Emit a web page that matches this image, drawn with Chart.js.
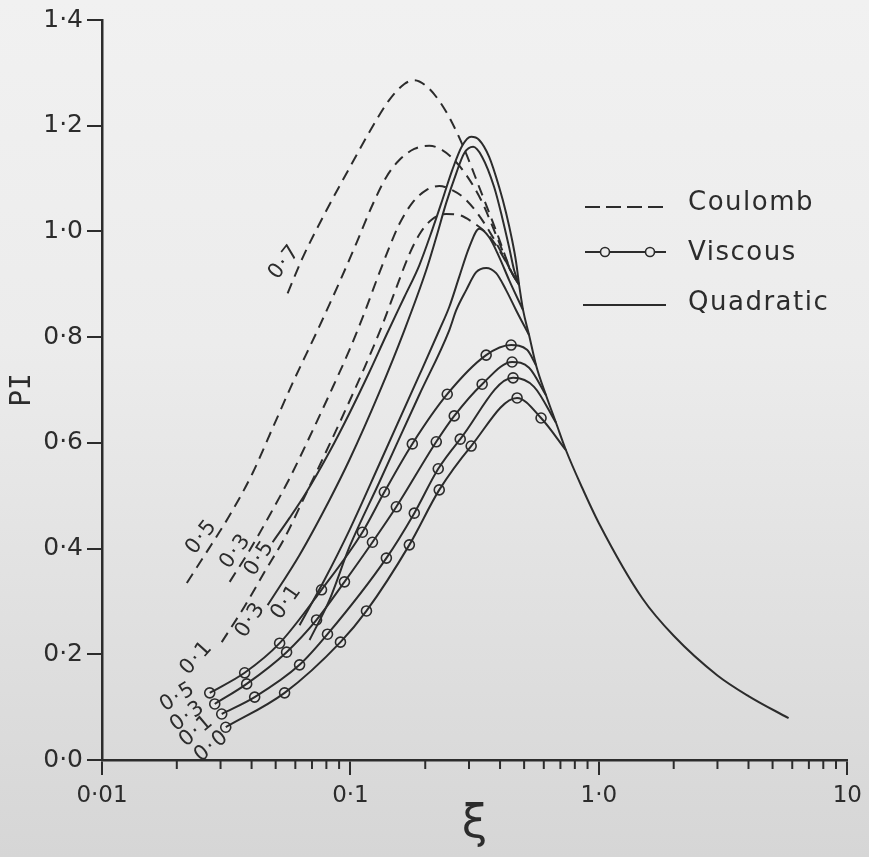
<!DOCTYPE html>
<html><head><meta charset="utf-8">
<script src="https://cdn.jsdelivr.net/npm/chart.js@4.4.0/dist/chart.umd.min.js"></script>
<style>
html,body{margin:0;padding:0;}
body{width:869px;height:857px;background:linear-gradient(to bottom,#f1f1f1 0%,#ececec 40%,#e0e0e0 72%,#d6d6d6 100%);overflow:hidden;}
canvas{display:block;}
</style></head><body>
<canvas id="c" width="869" height="857"></canvas>
<script>
// ---------- data ----------
const xTickValues = [0.01, 0.1, 1, 10];
const xTickLabels = ['0·01', '0·1', '1·0', '10'];
const xMinorTicks = [0.02,0.03,0.04,0.05,0.06,0.07,0.08,0.09,0.2,0.3,0.4,0.5,0.6,0.7,0.8,0.9,2,3,4,5,6,7,8,9];
const yTickLabels = ['0·0', '0·2', '0·4', '0·6', '0·8', '1·0', '1·2', '1·4'];

// Coulomb (dashed)
const coulomb07 = [[0.05585,0.883],[0.06416,0.950],[0.07864,1.033],[0.09909,1.120],[0.1226,1.198],[0.1434,1.249],[0.1648,1.279],[0.1807,1.286],[0.2019,1.275],[0.2277,1.247],[0.2544,1.209],[0.2870,1.156],[0.3297,1.084],[0.3858,1.001],[0.4472,0.921],[0.4772,0.899]];
const coulomb05 = [[0.02195,0.335],[0.02593,0.388],[0.03265,0.463],[0.0404,0.543],[0.04861,0.628],[0.05848,0.713],[0.07371,0.813],[0.09034,0.904],[0.1057,0.978],[0.1226,1.050],[0.1395,1.103],[0.1573,1.135],[0.1807,1.156],[0.2076,1.162],[0.2342,1.154],[0.2617,1.135],[0.2923,1.107],[0.3359,1.059],[0.3858,0.993],[0.4472,0.921],[0.4772,0.899]];
const coulomb03 = [[0.03265,0.337],[0.03929,0.397],[0.04727,0.463],[0.05689,0.533],[0.06845,0.611],[0.08236,0.692],[0.09909,0.776],[0.1138,0.846],[0.1284,0.912],[0.1434,0.970],[0.1573,1.014],[0.1774,1.054],[0.2019,1.078],[0.2277,1.086],[0.2568,1.078],[0.2870,1.063],[0.3236,1.035],[0.3616,1.001],[0.4042,0.961],[0.4472,0.921],[0.4772,0.899]];
const coulomb01 = [[0.03033,0.223],[0.03752,0.291],[0.04514,0.356],[0.05431,0.420],[0.06536,0.498],[0.07864,0.577],[0.0946,0.658],[0.1138,0.742],[0.1344,0.823],[0.1545,0.899],[0.1726,0.957],[0.1910,0.997],[0.2134,1.023],[0.2429,1.033],[0.2740,1.031],[0.3090,1.018],[0.3517,0.997],[0.3966,0.965],[0.4472,0.921],[0.4772,0.899]];

// Quadratic (solid)
const quadratic07 = [[0.04861,0.412],[0.05689,0.458],[0.06658,0.507],[0.08236,0.583],[0.09909,0.656],[0.1192,0.734],[0.1395,0.804],[0.1648,0.876],[0.1893,0.936],[0.2134,1.003],[0.2342,1.059],[0.2568,1.116],[0.2817,1.162],[0.3061,1.179],[0.3297,1.173],[0.3616,1.141],[0.3966,1.084],[0.4231,1.035],[0.4472,0.984],[0.4642,0.942],[0.4772,0.899]];
const quadratic05 = [[0.04642,0.293],[0.0624,0.388],[0.08236,0.492],[0.09909,0.568],[0.1308,0.696],[0.1648,0.813],[0.2019,0.927],[0.2215,0.989],[0.2429,1.054],[0.2665,1.110],[0.2870,1.148],[0.3119,1.160],[0.3389,1.141],[0.3787,1.084],[0.4077,1.027],[0.4351,0.970],[0.4556,0.927],[0.4772,0.899]];
const quadratic03 = [[0.0624,0.255],[0.07864,0.341],[0.09909,0.435],[0.1308,0.560],[0.1893,0.728],[0.2277,0.813],[0.2498,0.857],[0.2740,0.914],[0.3005,0.970],[0.3297,1.005],[0.3616,0.989],[0.3966,0.952],[0.4351,0.908],[0.4953,0.851]];
const quadratic01 = [[0.06845,0.227],[0.08236,0.303],[0.09909,0.403],[0.1308,0.526],[0.1893,0.691],[0.2498,0.813],[0.2665,0.851],[0.2923,0.889],[0.3207,0.923],[0.3517,0.931],[0.3858,0.921],[0.4231,0.889],[0.4642,0.851],[0.5234,0.804]];

// common descending branch
const commonTail = [[0.4772,0.899],[0.4953,0.851],[0.5234,0.804],[0.5585,0.747],[0.6125,0.690],[0.672,0.638],[0.737,0.586],[0.8545,0.516],[1.0,0.448],[1.5,0.305],[2.0,0.235],[3.0,0.160],[4.0,0.121],[5.8,0.079]];

// Viscous (solid with circles): circle points, then descent to common branch
const viscous05 = [[0.02714,0.127],[0.03752,0.165],[0.05187,0.221],[0.07647,0.322],[0.1117,0.431],[0.1369,0.507],[0.1774,0.598],[0.2452,0.692],[0.3517,0.766],[0.4432,0.785]];
const viscous05Join = [[0.5137,0.776],[0.5585,0.747]];
const viscous03 = [[0.02843,0.106],[0.03822,0.144],[0.05533,0.204],[0.07303,0.265],[0.0946,0.337],[0.1226,0.412],[0.1530,0.479],[0.2215,0.602],[0.2617,0.651],[0.3389,0.711],[0.4473,0.753]];
const viscous03Join = [[0.5234,0.742],[0.6125,0.690]];
const viscous01 = [[0.03033,0.087],[0.04116,0.119],[0.0624,0.180],[0.08083,0.238],[0.1395,0.382],[0.1807,0.467],[0.2256,0.551],[0.2766,0.607],[0.4514,0.723]];
const viscous01Join = [[0.5483,0.706],[0.672,0.638]];
const viscous00 = [[0.03148,0.062],[0.05431,0.127],[0.09116,0.223],[0.1160,0.282],[0.1726,0.407],[0.2277,0.511],[0.3061,0.594],[0.4685,0.685],[0.5850,0.647]];
const viscous00Join = [[0.737,0.586]];

// curve annotations: text, anchor (data units), angle (deg)
const curveLabels = [
  ['0·7', 0.0543, 0.942, -52],
  ['0·5', 0.02521, 0.422, -52],
  ['0·3', 0.03453, 0.395, -53],
  ['0·5', 0.04310, 0.382, -57],
  ['0·3', 0.03966, 0.265, -57],
  ['0·1', 0.05533, 0.299, -55],
  ['0·1', 0.02406, 0.193, -48],
  ['0·5', 0.02019, 0.119, -32],
  ['0·3', 0.02214, 0.083, -36],
  ['0·1', 0.02406, 0.055, -40],
  ['0·0', 0.02765, 0.026, -40]
];
const legendItems = ['Coulomb', 'Viscous', 'Quadratic'];

// ---------- drawing ----------
const INK = '#2c2c2c';
const FONT = 'DejaVu Sans';
const pts = a => a.map(p => ({x: p[0], y: p[1]}));

function curve(data, dashed) {
  return {data: pts(data), borderColor: INK, borderWidth: 2, pointRadius: 0,
    borderDash: dashed ? [11, 7] : [], cubicInterpolationMode: 'monotone', fill: false};
}
function markers(data) {
  return {data: pts(data), showLine: false, pointRadius: 5, pointHoverRadius: 5,
    pointBackgroundColor: '#e4e4e4', pointBorderColor: INK, pointBorderWidth: 1.6};
}

const datasets = [
  curve(commonTail, false),
  curve(coulomb07, true), curve(coulomb05, true), curve(coulomb03, true), curve(coulomb01, true),
  curve(quadratic07, false), curve(quadratic05, false), curve(quadratic03, false), curve(quadratic01, false),
  curve(viscous05.concat(viscous05Join), false), curve(viscous03.concat(viscous03Join), false),
  curve(viscous01.concat(viscous01Join), false), curve(viscous00.concat(viscous00Join), false),
  markers(viscous05), markers(viscous03), markers(viscous01), markers(viscous00)
];

const extras = {
  id: 'extras',
  afterDraw(chart) {
    const {ctx, chartArea, scales: {x, y}} = chart;
    ctx.save();
    // minor log ticks
    ctx.strokeStyle = INK; ctx.lineWidth = 2;
    for (const v of xMinorTicks) {
      const px = x.getPixelForValue(v);
      ctx.beginPath(); ctx.moveTo(px, chartArea.bottom); ctx.lineTo(px, chartArea.bottom + 9); ctx.stroke();
    }
    // curve labels
    ctx.fillStyle = INK;
    ctx.font = '21px "' + FONT + '"';
    if ('letterSpacing' in ctx) ctx.letterSpacing = '1.5px';
    ctx.textAlign = 'center'; ctx.textBaseline = 'middle';
    for (const [t, vx, vy, ang] of curveLabels) {
      ctx.save();
      ctx.translate(x.getPixelForValue(vx), y.getPixelForValue(vy));
      ctx.rotate(ang * Math.PI / 180);
      ctx.fillText(t, 0, 0);
      ctx.restore();
    }
    // legend
    const lx0 = 585, lx1 = 666, tx = 688;
    const rows = [207, 252, 305];
    ctx.lineWidth = 2;
    ctx.setLineDash([15, 6]);
    ctx.beginPath(); ctx.moveTo(lx0, rows[0]); ctx.lineTo(lx1, rows[0]); ctx.stroke();
    ctx.setLineDash([]);
    ctx.beginPath(); ctx.moveTo(lx0, rows[1]); ctx.lineTo(lx1, rows[1]); ctx.stroke();
    for (const cx of [605, 650]) {
      ctx.beginPath(); ctx.arc(cx, rows[1], 4.5, 0, Math.PI * 2);
      ctx.fillStyle = '#ececec'; ctx.fill(); ctx.lineWidth = 1.6; ctx.stroke();
    }
    ctx.lineWidth = 2;
    ctx.beginPath(); ctx.moveTo(lx0 - 2, rows[2]); ctx.lineTo(lx1, rows[2]); ctx.stroke();
    ctx.fillStyle = INK;
    ctx.font = '26px "' + FONT + '"';
    ctx.textAlign = 'left'; ctx.textBaseline = 'alphabetic';
    const base = [210, 260, 310];
    legendItems.forEach((t, i) => ctx.fillText(t, tx, base[i]));
    ctx.restore();
  }
};

new Chart(document.getElementById('c'), {
  type: 'line',
  data: {datasets},
  options: {
    responsive: false, animation: false, devicePixelRatio: 1,
    layout: {padding: {top: 20, right: 20, left: 0, bottom: 0}},
    plugins: {legend: {display: false}, tooltip: {enabled: false}},
    events: [],
    scales: {
      x: {
        type: 'logarithmic', min: 0.01, max: 10,
        afterBuildTicks: s => { s.ticks = xTickValues.map(v => ({value: v, major: true})); },
        afterFit: s => { s.height = 97; },
        ticks: {autoSkip: false, maxRotation: 0, padding: 7, color: INK,
          font: {family: FONT, size: 23},
          callback: v => xTickLabels[xTickValues.indexOf(v)]},
        grid: {display: true, drawOnChartArea: false, drawTicks: true, tickLength: 15, color: INK, lineWidth: 2},
        border: {display: true, color: INK, width: 2.5},
        title: {display: true, text: 'ξ', color: INK, font: {family: FONT, size: 46}, padding: {top: 0, bottom: 4}}
      },
      y: {
        type: 'linear', min: 0, max: 1.4,
        afterFit: s => { s.width = 102; },
        ticks: {stepSize: 0.2, padding: 4, color: INK, font: {family: FONT, size: 25},
          callback: (v, i) => yTickLabels[i]},
        grid: {display: true, drawOnChartArea: false, drawTicks: true, tickLength: 15, color: INK, lineWidth: 2},
        border: {display: true, color: INK, width: 2.5},
        title: {display: true, text: 'PI', color: INK, font: {family: 'DejaVu Sans Mono', size: 28}, padding: {top: 6, bottom: 0}}
      }
    }
  },
  plugins: [extras]
});
</script>
</body></html>
